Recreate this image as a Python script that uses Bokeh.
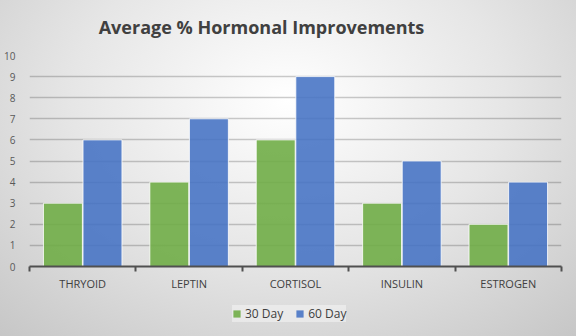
from bokeh.plotting import figure
from bokeh.layouts import column
from bokeh.models import (LinearAxis, FixedTicker, ColumnDataSource, Legend, LegendItem,
                          Range1d, Label, Grid)
from bokeh.embed import file_html
from bokeh.resources import INLINE

title_text = "Average % Hormonal Improvements"
categories = ["THRYOID", "LEPTIN", "CORTISOL", "INSULIN", "ESTROGEN"]
day30 = [3, 4, 6, 3, 2]
day60 = [6, 7, 9, 5, 4]
y_ticks = list(range(0, 11))
series_names = ["30 Day", "60 Day"]
colors = ["#70ad47", "#4472c4"]

n = len(categories)
centers = [i + 0.5 for i in range(n)]
off = 0.186
bw = 0.366

src = ColumnDataSource(dict(
    x30=[c - off for c in centers], x60=[c + off for c in centers],
    d30=day30, d60=day60))


def bare(fig):
    fig.border_fill_color = None
    fig.background_fill_color = None
    fig.outline_line_color = None
    return fig


# title strip
pt = bare(figure(width=576, height=50, output_backend="svg", toolbar_location=None,
                 x_range=Range1d(0, 1), y_range=Range1d(0, 1),
                 x_axis_type=None, y_axis_type=None,
                 min_border_left=0, min_border_right=0, min_border_top=0, min_border_bottom=0))
pt.xgrid.visible = False
pt.ygrid.visible = False
pt.add_layout(Label(x=232, y=24, x_units="screen", y_units="screen", text=title_text,
                    text_align="center", text_baseline="middle",
                    text_font="Open Sans", text_font_size="18px", text_font_style="bold",
                    text_color="#404040"))

p = bare(figure(width=576, height=246, output_backend="svg", toolbar_location=None,
                x_range=Range1d(0, n), y_range=Range1d(0, 10),
                x_axis_type=None, y_axis_type=None,
                min_border_left=29, min_border_right=15, min_border_top=5, min_border_bottom=30))

bar_style = dict(line_color="white", line_alpha=0.8, line_width=1)
r30 = p.vbar(x="x30", top="d30", width=bw, source=src, fill_color=colors[0],
             fill_alpha=0.9, **bar_style)
r60 = p.vbar(x="x60", top="d60", width=bw, source=src, fill_color=colors[1],
             fill_alpha=0.88, **bar_style)

ya = LinearAxis(ticker=FixedTicker(ticks=y_ticks))
ya.axis_line_color = None
ya.major_tick_line_color = None
ya.minor_tick_line_color = None
ya.major_label_text_font = "Open Sans"
ya.major_label_text_font_size = "10px"
ya.major_label_text_color = "#595959"
ya.major_label_standoff = 8
p.add_layout(ya, "left")

g = Grid(dimension=1, ticker=FixedTicker(ticks=y_ticks[1:]))
g.grid_line_color = "#000000"
g.grid_line_alpha = 0.2
g.grid_line_width = 1.5
p.add_layout(g)

xa = LinearAxis(ticker=FixedTicker(ticks=list(range(n + 1))))
xa.axis_line_color = "#505050"
xa.axis_line_width = 2
xa.major_tick_line_color = "#505050"
xa.major_tick_line_width = 2
xa.major_tick_in = 0
xa.major_tick_out = 5
xa.minor_tick_line_color = None
xa.major_label_text_font_size = "1px"
xa.major_label_standoff = 0
xa.major_label_overrides = {i: " " for i in range(n + 1)}
p.add_layout(xa, "below")

xl = LinearAxis(ticker=FixedTicker(ticks=centers))
xl.axis_line_color = None
xl.major_tick_line_color = None
xl.minor_tick_line_color = None
xl.major_label_overrides = {c: lab for c, lab in zip(centers, categories)}
xl.major_label_text_font = "Open Sans"
xl.major_label_text_font_size = "11px"
xl.major_label_text_color = "#404040"
xl.major_label_standoff = -6
p.add_layout(xl, "below")

# legend strip (bars drawn out of view, only their legend entries show)
pl = bare(figure(width=576, height=40, output_backend="svg", toolbar_location=None,
                 x_range=Range1d(100, 101), y_range=Range1d(100, 101),
                 x_axis_type=None, y_axis_type=None,
                 min_border_left=0, min_border_right=0, min_border_top=0, min_border_bottom=0))
pl.xgrid.visible = False
pl.ygrid.visible = False
l30 = pl.vbar(x="x30", top="d30", width=bw, source=src, fill_color=colors[0],
              fill_alpha=0.9, line_color=None)
l60 = pl.vbar(x="x60", top="d60", width=bw, source=src, fill_color=colors[1],
              fill_alpha=0.88, line_color=None)

legend = Legend(items=[LegendItem(label=series_names[0], renderers=[l30]),
                       LegendItem(label=series_names[1], renderers=[l60])],
                orientation="horizontal", location=(203, 14))
legend.label_text_font = "Open Sans"
legend.label_text_font_size = "12px"
legend.label_text_color = "#404040"
legend.glyph_width = 9
legend.glyph_height = 9
legend.spacing = 12
legend.label_standoff = 4
legend.padding = 6
legend.margin = 0
legend.background_fill_color = "#ffffff"
legend.background_fill_alpha = 0.4
legend.border_line_color = None
pl.add_layout(legend, "center")

layout = column(pt, p, pl, spacing=0)
layout.styles = {"background": "radial-gradient(ellipse 75% 95% at 50% 30%, #ffffff 0%, #e6e6e6 50%, #c6c6c6 100%)"}

open("out.html", "w").write(file_html(layout, INLINE))
